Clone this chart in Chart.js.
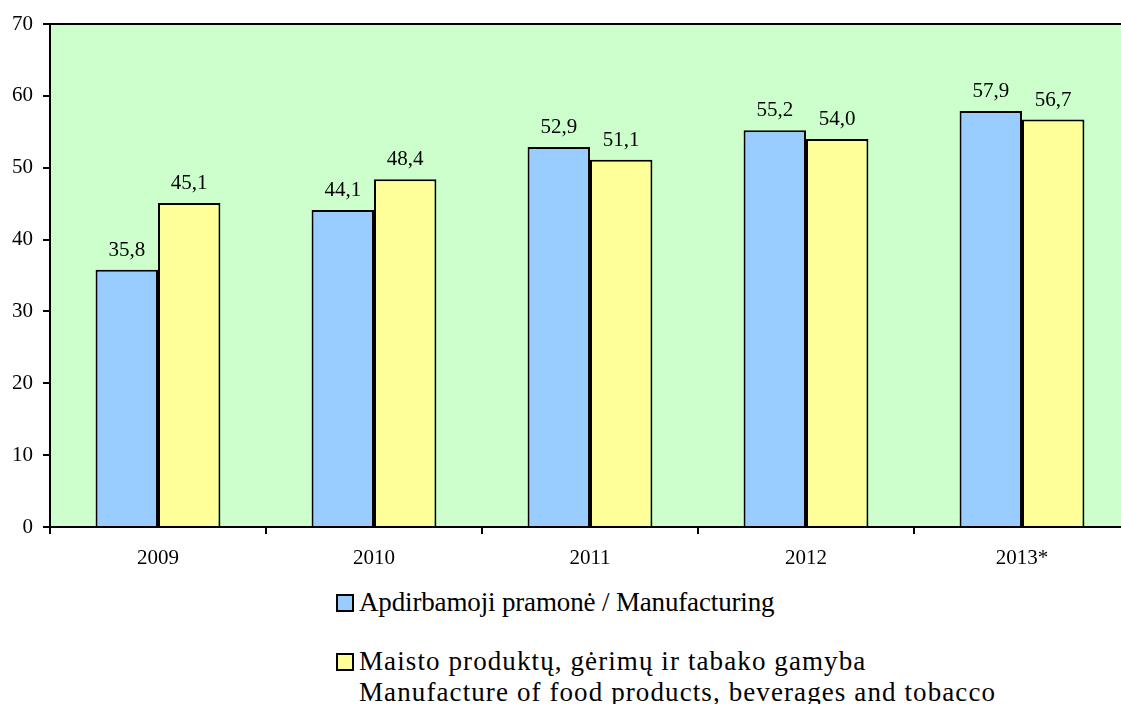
<!DOCTYPE html>
<html>
<head>
<meta charset="utf-8">
<script src="https://cdn.jsdelivr.net/npm/chart.js@4/dist/chart.umd.min.js"></script>
<style>
  html, body { margin: 0; padding: 0; background: #fff; overflow: hidden; width: 1121px; height: 704px; }
  #wrap { position: relative; width: 1130px; height: 580px; }
  .legend { position: absolute; font-family: 'Liberation Serif', serif; font-size: 27px; color: #000; line-height: 31px; }
  .legend .sq { position: absolute; left: 0; top: 7px; width: 14px; height: 14px; border: 2px solid #000; box-sizing: content-box; }
  .legend .txt { margin-left: 23px; white-space: nowrap; }
</style>
</head>
<body>
<div id="wrap"><canvas id="chart" width="1130" height="580"></canvas></div>

<div class="legend" style="left:336px; top:587px;">
  <div class="sq" style="background:#99CCFF"></div>
  <div class="txt" style="letter-spacing:-0.15px">Apdirbamoji pramonė / Manufacturing</div>
</div>
<div class="legend" style="left:336px; top:646px;">
  <div class="sq" style="background:#FFFF99"></div>
  <div class="txt" style="letter-spacing:1.1px">Maisto produktų, gėrimų ir tabako gamyba<br>Manufacture of food products, beverages and tobacco</div>
</div>

<script>
const years = ["2009", "2010", "2011", "2012", "2013*"];
const manufacturing = [35.8, 44.1, 52.9, 55.2, 57.9];
const foodProducts = [45.1, 48.4, 51.1, 54.0, 56.7];
const seriesNames = ["Apdirbamoji pramonė / Manufacturing", "Maisto produktų, gėrimų ir tabako gamyba"];

const fontFamily = "'Liberation Serif', serif";

// green plot background plus top frame line
const plotFrame = {
  id: 'plotFrame',
  beforeDraw(chart){
    let a = chart.chartArea;
    let ctx = chart.ctx;
    ctx.save();
    ctx.fillStyle = '#CCFFCC';
    ctx.fillRect(a.left, a.top, a.right - a.left, a.bottom - a.top);
    ctx.restore();
  },
  afterDraw(chart){
    let a = chart.chartArea;
    let ctx = chart.ctx;
    ctx.save();
    ctx.strokeStyle = '#000';
    ctx.lineWidth = 2;
    ctx.beginPath();
    ctx.moveTo(a.left - 1, a.top);
    ctx.lineTo(a.right + 10, a.top);
    ctx.stroke();
    ctx.restore();
  }
};

// value labels with comma decimals
const valueLabels = {
  id: 'valueLabels',
  afterDatasetsDraw(chart){
    let ctx = chart.ctx;
    ctx.save();
    ctx.fillStyle = '#000';
    ctx.font = '21px ' + fontFamily;
    ctx.textAlign = 'center';
    ctx.textBaseline = 'alphabetic';
    chart.data.datasets.forEach((ds, i) => {
      chart.getDatasetMeta(i).data.forEach((bar, j) => {
        let txt = ds.data[j].toFixed(1).replace('.', ',');
        ctx.fillText(txt, bar.x, bar.y - 14);
      });
    });
    ctx.restore();
  }
};

new Chart(document.getElementById('chart'), {
  type: 'bar',
  data: {
    labels: years,
    datasets: [
      { label: seriesNames[0], data: manufacturing, backgroundColor: '#99CCFF', borderColor: '#000', borderWidth: 2, borderSkipped: 'bottom' },
      { label: seriesNames[1], data: foodProducts, backgroundColor: '#FFFF99', borderColor: '#000', borderWidth: 2, borderSkipped: 'bottom' }
    ]
  },
  options: {
    responsive: false,
    animation: false,
    layout: { padding: { top: 24, right: 0, left: 0, bottom: 0 } },
    datasets: { bar: { categoryPercentage: 0.578, barPercentage: 1 } },
    plugins: { legend: { display: false }, tooltip: { enabled: false } },
    scales: {
      x: {
        grid: { drawOnChartArea: false, drawTicks: true, tickLength: 7, color: '#000', lineWidth: 2, offset: true },
        border: { color: '#000', width: 2 },
        ticks: { color: '#000', font: { family: fontFamily, size: 21 }, padding: 12 },
        afterFit(scale){ scale.height = 53; }
      },
      y: {
        min: 0, max: 70,
        grid: { drawOnChartArea: false, drawTicks: true, tickLength: 7, color: '#000', lineWidth: 2 },
        border: { color: '#000', width: 2 },
        ticks: { stepSize: 10, color: '#000', font: { family: fontFamily, size: 21 }, padding: 10 },
        afterFit(scale){ scale.width = 50; }
      }
    }
  },
  plugins: [plotFrame, valueLabels]
});
</script>
</body>
</html>
